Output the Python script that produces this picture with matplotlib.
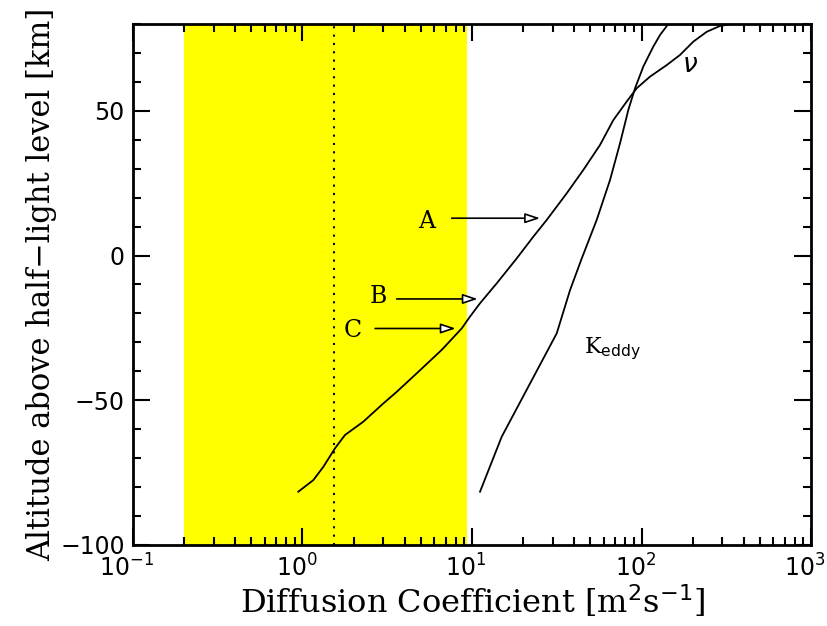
import matplotlib
matplotlib.use("Agg")
import matplotlib.pyplot as plt
from matplotlib.ticker import LogLocator, MultipleLocator, NullFormatter
from matplotlib.transforms import ScaledTranslation

# nu (kinematic viscosity) profile
nu_x = [0.944, 1.158, 1.327, 1.555, 1.781, 2.284, 2.997, 3.595, 4.717, 6.626,
        8.69, 9.73, 11.15, 13.99, 18.35, 22.99, 27.59, 36.2, 45.4, 56.9, 68.2,
        81.8, 93.7, 112.2, 140.8, 168.7, 202.1, 242.5, 290.0, 340.0]
nu_y = [-81.6, -77.6, -73.0, -66.6, -62.0, -57.4, -51.1, -47.1, -40.7, -32.6,
        -25.2, -21.1, -16.5, -9.6, -1.0, 6.5, 12.3, 21.5, 29.6, 38.2, 46.8,
        53.2, 57.8, 61.8, 65.8, 69.3, 73.9, 77.3, 79.3, 80.0]

# K_eddy profile
k_x = [11.15, 14.97, 22.0, 31.6, 37.9, 44.4, 54.4, 65.2, 74.7, 83.6, 91.6,
       102.5, 117.4, 128.6, 143.9]
k_y = [-81.6, -62.6, -44.2, -26.9, -11.9, -1.0, 12.3, 26.1, 38.8, 50.3, 57.8,
       65.3, 72.2, 76.2, 80.0]

band = [0.2, 9.34]
dotted_x = 1.54

labels = ["A", "B", "C"]
label_pos = [(5.40, 11.7), (2.80, -14.2), (1.98, -26.0)]
arrow_start = [(7.59, 12.9), (3.595, -15.0), (2.68, -25.2)]
arrow_end = [(25.2, 12.9), (10.8, -15.0), (8.01, -25.2)]

xticks = [0.1, 1, 10, 100, 1000]
yticks = [-100, -50, 0, 50]

fig = plt.figure(figsize=(8.28, 6.26), dpi=100)
ax = fig.add_axes([0.1606, 0.1294, 0.8189, 0.8323])

ax.axvspan(band[0], band[1], color="#ffff00", lw=0, zorder=0)
ax.axvline(dotted_x, color="black", ls=(0, (1, 3)), lw=1.5, zorder=1)

ax.plot(nu_x, nu_y, color="black", lw=1.3, zorder=3)
ax.plot(k_x, k_y, color="black", lw=1.3, zorder=3)

serif = ["DejaVu Serif"]
for lab, (tx, ty), s, e in zip(labels, label_pos, arrow_start, arrow_end):
    ax.text(tx, ty, lab, fontsize=17, family=serif, ha="center", va="center")
    ax.annotate("", xy=e, xytext=s,
                arrowprops=dict(arrowstyle="-|>,head_length=0.9,head_width=0.3",
                                fc="white", ec="black", lw=1.2,
                                shrinkA=0, shrinkB=0))

ax.text(193, 65.8, r"$\nu$", fontsize=19, ha="center", va="center")
ax.text(67, -32, r"K$_{\rm eddy}$", fontsize=16, family=serif, ha="center", va="center")

ax.set_xscale("log")
ax.set_xlim(0.1, 1000)
ax.set_ylim(-100, 80)
ax.set_xticks(xticks)
ax.set_yticks(yticks)
ax.xaxis.set_minor_locator(LogLocator(base=10, subs=range(2, 10)))
ax.xaxis.set_minor_formatter(NullFormatter())
ax.yaxis.set_minor_locator(MultipleLocator(10))

ax.tick_params(which="both", direction="in", top=True, right=True, width=1.5)
ax.tick_params(which="major", length=12, pad=6)
ax.tick_params(axis="y", which="major", labelsize=17)
ax.tick_params(axis="x", which="major", labelsize=17, pad=7)
ax.tick_params(which="minor", length=6)
for sp in ax.spines.values():
    sp.set_linewidth(2)

shift = ScaledTranslation(-6 / 100, 0, fig.dpi_scale_trans)
for lbl in ax.get_xticklabels():
    lbl.set_transform(lbl.get_transform() + shift)

ax.set_xlabel(r"Diffusion Coefficient [m$^2$s$^{-1}$]", fontsize=23, family=serif, labelpad=1)
ax.set_ylabel("Altitude above half\u2212light level [km]", fontsize=22, family=serif, labelpad=2)

fig.savefig("out.png", dpi=100)
